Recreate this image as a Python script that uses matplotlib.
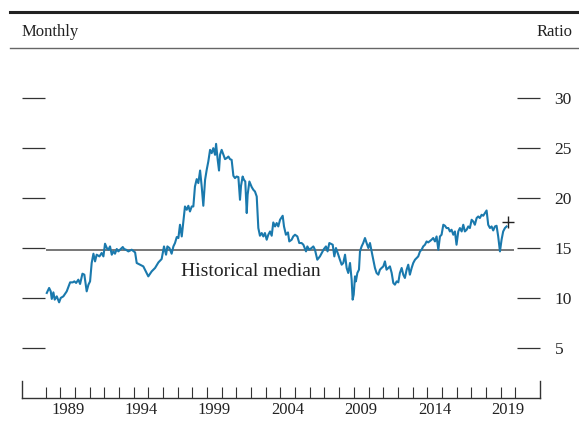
import numpy as np
import matplotlib.pyplot as plt

# Forward price-to-earnings ratio, monthly (decimal years)
dates = [
    1988.07, 1988.23, 1988.34, 1988.41, 1988.52, 1988.61, 1988.75, 1988.91, 1989.02, 1989.20,
    1989.43, 1989.66, 1989.84, 1989.95, 1990.07, 1990.22, 1990.34, 1990.50, 1990.63, 1990.79,
    1990.91, 1991.02, 1991.13, 1991.25, 1991.36, 1991.47, 1991.66, 1991.81, 1991.93, 1992.04,
    1992.16, 1992.27, 1992.38, 1992.50, 1992.61, 1992.72, 1992.84, 1992.95, 1993.06, 1993.25,
    1993.34, 1993.47, 1993.63, 1993.86, 1994.09, 1994.20, 1994.43, 1994.65, 1994.88, 1994.99,
    1995.22, 1995.45, 1995.68, 1995.90, 1996.06, 1996.20, 1996.29, 1996.43, 1996.58, 1996.70,
    1996.81, 1996.93, 1997.04, 1997.15, 1997.27, 1997.38, 1997.49, 1997.61, 1997.72, 1997.83,
    1997.95, 1998.06, 1998.17, 1998.29, 1998.40, 1998.52, 1998.63, 1998.74, 1998.86, 1998.97,
    1999.08, 1999.20, 1999.31, 1999.42, 1999.54, 1999.61, 1999.72, 1999.81, 1999.88, 1999.99,
    2000.11, 2000.22, 2000.33, 2000.45, 2000.56, 2000.67, 2000.79, 2000.90, 2001.01, 2001.13,
    2001.24, 2001.31, 2001.42, 2001.51, 2001.60, 2001.70, 2001.76, 2001.88, 2002.04, 2002.15,
    2002.26, 2002.38, 2002.49, 2002.60, 2002.72, 2002.83, 2002.94, 2003.06, 2003.17, 2003.29,
    2003.40, 2003.51, 2003.63, 2003.74, 2003.85, 2003.97, 2004.15, 2004.24, 2004.37, 2004.51,
    2004.60, 2004.76, 2004.87, 2004.99, 2005.15, 2005.28, 2005.44, 2005.56, 2005.74, 2005.83,
    2005.96, 2006.12, 2006.24, 2006.35, 2006.51, 2006.69, 2006.87, 2006.96, 2007.10, 2007.21,
    2007.33, 2007.42, 2007.56, 2007.67, 2007.78, 2007.94, 2008.05, 2008.17, 2008.28, 2008.40,
    2008.51, 2008.62, 2008.74, 2008.85, 2008.92, 2008.99, 2009.08, 2009.14, 2009.24, 2009.35,
    2009.42, 2009.53, 2009.64, 2009.76, 2009.87, 2009.99, 2010.10, 2010.21, 2010.28, 2010.44,
    2010.55, 2010.67, 2010.78, 2010.89, 2011.01, 2011.12, 2011.23, 2011.35, 2011.46, 2011.58,
    2011.69, 2011.80, 2011.92, 2012.03, 2012.14, 2012.26, 2012.37, 2012.48, 2012.60, 2012.71,
    2012.82, 2012.94, 2013.05, 2013.17, 2013.28, 2013.39, 2013.51, 2013.62, 2013.73, 2013.85,
    2013.96, 2014.07, 2014.19, 2014.30, 2014.41, 2014.53, 2014.64, 2014.76, 2014.87, 2014.98,
    2015.10, 2015.21, 2015.32, 2015.44, 2015.55, 2015.66, 2015.78, 2015.89, 2016.00, 2016.12,
    2016.23, 2016.35, 2016.46, 2016.57, 2016.69, 2016.80, 2016.91, 2017.03, 2017.14, 2017.25,
    2017.37, 2017.48, 2017.59, 2017.71, 2017.82, 2017.94, 2018.05, 2018.16, 2018.28, 2018.39,
    2018.50, 2018.62, 2018.73, 2018.84, 2018.96, 2019.07, 2019.18, 2019.30, 2019.41,
]
ratio = [
    10.47, 10.97, 10.63, 9.87, 10.53, 9.80, 10.13, 9.53, 9.97, 10.13,
    10.63, 11.53, 11.53, 11.63, 11.47, 11.80, 11.37, 12.40, 12.30, 10.63,
    11.30, 11.63, 13.47, 14.40, 13.63, 14.30, 14.13, 14.47, 14.13, 15.40,
    14.97, 14.80, 15.13, 14.30, 14.63, 14.40, 14.87, 14.63, 14.80, 15.07,
    14.87, 14.80, 14.63, 14.80, 14.53, 13.47, 13.30, 13.13, 12.47, 12.13,
    12.63, 12.97, 13.53, 13.87, 15.13, 14.30, 15.13, 14.97, 14.40, 15.13,
    15.47, 16.07, 15.97, 17.30, 16.13, 17.63, 19.13, 18.80, 19.20, 18.63,
    19.13, 19.13, 21.13, 21.87, 21.47, 22.73, 21.13, 19.20, 21.80, 22.80,
    23.63, 24.80, 24.47, 24.97, 24.30, 25.40, 23.80, 22.73, 24.30, 24.80,
    24.30, 23.87, 23.97, 24.13, 23.87, 23.80, 22.20, 21.97, 22.13, 22.07,
    19.80, 21.20, 22.13, 21.80, 21.63, 18.47, 20.30, 21.63, 21.07, 20.80,
    20.63, 20.13, 16.97, 16.20, 16.47, 16.13, 16.47, 15.80, 16.30, 16.63,
    16.20, 17.53, 17.13, 17.47, 17.13, 17.80, 18.20, 17.13, 16.30, 16.53,
    15.63, 15.80, 16.13, 16.30, 16.13, 15.47, 15.47, 15.30, 14.63, 15.13,
    14.80, 14.97, 15.13, 14.80, 13.80, 14.13, 14.63, 14.87, 15.13, 14.63,
    15.47, 15.40, 15.30, 14.13, 14.97, 14.30, 13.80, 13.30, 13.47, 14.30,
    12.97, 12.47, 13.47, 11.80, 9.80, 10.30, 12.13, 11.63, 12.47, 12.80,
    14.63, 15.13, 15.47, 15.97, 15.47, 14.97, 15.47, 14.63, 14.13, 12.97,
    12.47, 12.30, 12.80, 12.97, 13.13, 13.63, 12.80, 12.97, 13.13, 12.47,
    11.47, 11.30, 11.63, 11.53, 12.47, 12.97, 12.30, 11.97, 12.80, 13.30,
    12.30, 12.97, 13.47, 13.80, 13.97, 14.13, 14.63, 14.80, 15.13, 15.30,
    15.63, 15.53, 15.67, 15.80, 15.97, 15.63, 16.13, 14.80, 16.13, 16.30,
    17.30, 17.20, 16.97, 16.97, 16.63, 16.80, 16.30, 16.63, 15.30, 16.63,
    16.97, 16.63, 17.30, 16.63, 16.80, 17.13, 16.97, 17.80, 17.63, 17.30,
    17.97, 18.13, 17.97, 18.30, 18.20, 18.47, 18.73, 17.30, 16.97, 17.13,
    16.73, 17.13, 17.20, 16.13, 14.63, 15.80, 16.63, 16.97, 17.13,
]
latest_date = 2019.52
latest_value = 17.6
median_value = 14.8
median_span = (1988.07, 2019.84)

years = np.arange(1988, 2021)
label_years = [1989, 1994, 1999, 2004, 2009, 2014, 2019]
yticks = [5, 10, 15, 20, 25, 30]

plt.rcParams['font.family'] = ['Liberation Serif', 'DejaVu Serif']
txt = '#222222'
blue = '#1a79ad'

fig = plt.figure(figsize=(5.79, 4.23), dpi=100)
ax = fig.add_axes([21.7 / 579, 25.5 / 423, (540 - 21.7) / 579, (397.5 - 48) / 423])

ax.plot(dates, ratio, color=blue, linewidth=1.5, zorder=3)
ax.plot(median_span, [median_value, median_value], color='#777777', linewidth=1.4, zorder=2)
ax.plot(latest_date, latest_value, marker='+', color=txt, markersize=8, markeredgewidth=1.0)
ax.text(2002.0, 12.6, 'Historical median', ha='center', va='center', fontsize=14, color=txt)

ax.set_xlim(1986.36, 2021.69)
ax.set_ylim(0, 35)

for side in ['left', 'right', 'top']:
    ax.spines[side].set_visible(False)
ax.spines['bottom'].set_color('#333333')
ax.spines['bottom'].set_linewidth(1.0)

# year ticks pointing up, labels centred on mid-year
ax.set_xticks(years)
ax.set_xticklabels([])
ax.tick_params(axis='x', which='major', direction='in', length=8, width=0.8, color='#333333')
ax.set_xticks([y + 0.5 for y in label_years], minor=True)
ax.set_xticklabels([str(y) for y in label_years], minor=True)
ax.tick_params(axis='x', which='minor', length=0, pad=3, labelsize=12, labelcolor=txt)

# longer end marks at both ends of the date axis
for xe in ax.get_xlim():
    ax.axvline(xe, ymin=0, ymax=17 / 349.5, color='#333333', linewidth=1.0, clip_on=False)

ax.set_yticks(yticks)
ax.yaxis.set_ticks_position('both')
ax.tick_params(axis='y', direction='in', length=16.5, width=0.9, color='#333333',
               left=True, right=True, labelleft=False, labelright=True,
               pad=10.5, labelsize=12.5, labelcolor=txt)

# header rules and captions
fig.add_artist(plt.Line2D([10 / 579, 578 / 579], [1 - 11.7 / 423] * 2, color='#222222', linewidth=2.2))
fig.add_artist(plt.Line2D([10 / 579, 578 / 579], [1 - 48 / 423] * 2, color='#666666', linewidth=1.0))
fig.text(22 / 579, 1 - 32 / 423, 'Monthly', ha='left', va='center', fontsize=12, color=txt)
fig.text(573 / 579, 1 - 32 / 423, 'Ratio', ha='right', va='center', fontsize=12, color=txt)

fig.savefig('out.png', dpi=100)
